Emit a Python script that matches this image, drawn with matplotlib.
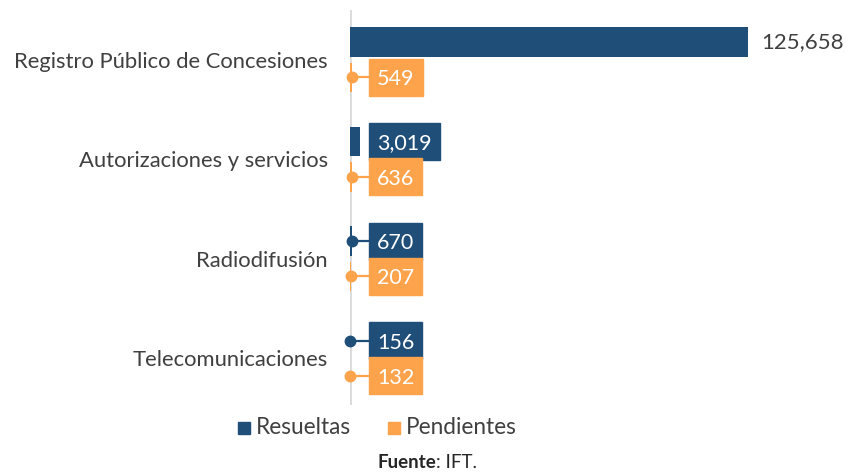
import matplotlib
matplotlib.use("Agg")
import matplotlib.pyplot as plt
from matplotlib.patches import Rectangle

plt.rcParams['font.family'] = ['Lato', 'DejaVu Sans']

categories = ["Registro Público de Concesiones", "Autorizaciones y servicios",
              "Radiodifusión", "Telecomunicaciones"]
resueltas = [125658, 3019, 670, 156]
pendientes = [549, 636, 207, 132]
series_names = ["Resueltas", "Pendientes"]
source_bold = "Fuente"
source_rest = ": IFT."

c_res = "#1f4e79"
c_pen = "#fca34c"
txt = "#404040"

fig = plt.figure(figsize=(8.47, 4.72), dpi=100)
W, H = 847, 472
ax = fig.add_axes([350 / W, 1 - 405 / H, (800 - 350) / W, (405 - 10) / H])

xmax = 125658 * 450 / 398
ax.set_xlim(0, xmax)
ax.set_ylim(3.47, -0.5)

off = 0.178
h = 0.30
ys = list(range(len(categories)))
ax.barh([y - off for y in ys], resueltas, height=h, color=c_res, zorder=3)
ax.barh([y + off for y in ys], pendientes, height=h, color=c_pen, zorder=3)

for s in ax.spines.values():
    s.set_visible(False)
ax.axvline(0, color="#d9d9d9", lw=2, zorder=1)
ax.set_xticks([])
ax.set_yticks(ys)
ax.set_yticklabels(categories, fontsize=15.8, color=txt)
ax.tick_params(axis='y', length=0, pad=16)

fig.canvas.draw()

box_px = 369
box_x = xmax * ((box_px - 350) / 450)


def callout(val, y, color, leader=True):
    yd = ax.transData.transform((0, y))[1]
    t = fig.text((box_px + 8) / W, yd / H, f"{val:,}", fontsize=15.5, color="white",
                 va="center_baseline", ha="left", zorder=6)
    fig.canvas.draw()
    bb = t.get_window_extent()
    w = bb.width + 16
    fig.patches.append(Rectangle((box_px / W, (yd - 18.5) / H), w / W, 37 / H,
                                 transform=fig.transFigure, color=color, zorder=5))
    if leader:
        ax.plot([val, box_x], [y, y], color=color, lw=1.6, zorder=4,
                solid_capstyle="butt")
        ax.plot([val], [y], "o", color=color, ms=7.5, zorder=6, clip_on=False)


for i, y in enumerate(ys):
    if i == 0:
        ax.text(resueltas[i] + xmax * 13 / 450, y - off, f"{resueltas[i]:,}",
                fontsize=16, color=txt, va="center", ha="left")
    else:
        callout(resueltas[i], y - off, c_res, leader=(i != 1))
    callout(pendientes[i], y + off, c_pen)

# legend
fig.patches.append(Rectangle((238 / W, 1 - 434 / H), 12 / W, 12 / H,
                             transform=fig.transFigure, color=c_res))
fig.text(256 / W, 1 - 427 / H, series_names[0], fontsize=16.3, color=txt, va="center")
fig.patches.append(Rectangle((388 / W, 1 - 434 / H), 12 / W, 12 / H,
                             transform=fig.transFigure, color=c_pen))
fig.text(406 / W, 1 - 427 / H, series_names[1], fontsize=16.3, color=txt, va="center")

t1 = fig.text(377 / W, 1 - 462 / H, source_bold, fontsize=13.5, fontweight="bold",
              color="#262626", va="center", ha="left")
fig.canvas.draw()
bb = t1.get_window_extent()
fig.text(bb.x1 / W, 1 - 462 / H, source_rest, fontsize=13.5, color="#262626",
         va="center", ha="left")

fig.savefig("out.png", dpi=100)
